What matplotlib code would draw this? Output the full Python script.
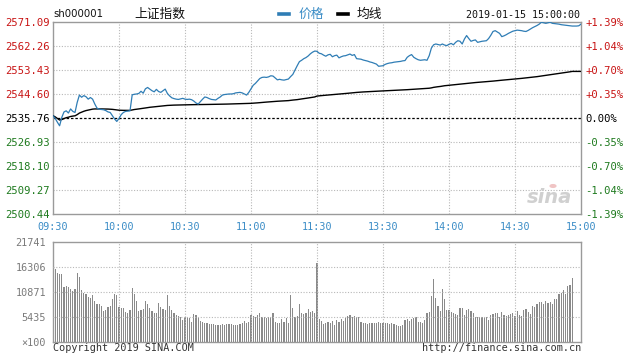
import matplotlib
matplotlib.use("Agg")
import matplotlib.pyplot as plt
import numpy as np
from matplotlib.patches import Circle

# ---------------- data ----------------
code = "sh000001"
name = "上证指数"
stamp = "2019-01-15 15:00:00"
prev_close = 2535.76

price = [
    2536.6, 2535.6, 2534.2, 2532.9, 2536.0, 2538.0, 2538.4, 2537.6, 2539.1, 2538.2,
    2537.8, 2541.5, 2544.2, 2543.4, 2544.0, 2543.6, 2542.7, 2543.3, 2542.7, 2540.9,
    2539.4, 2539.0, 2538.9, 2538.8, 2538.5, 2538.0, 2537.8, 2536.6, 2535.4, 2534.5,
    2535.6, 2537.0, 2537.8, 2538.2, 2538.3, 2538.4, 2544.3, 2544.5, 2544.6, 2544.8,
    2545.6, 2544.9, 2546.5, 2547.0, 2546.4, 2545.8, 2545.4, 2546.3, 2545.5, 2545.2,
    2545.8, 2546.4, 2544.8, 2543.9, 2543.2, 2542.9, 2542.7, 2542.6, 2542.8, 2543.0,
    2542.7, 2542.6, 2542.7, 2542.5, 2542.0, 2541.3, 2540.9, 2541.8, 2542.7, 2543.5,
    2543.3, 2542.9, 2542.6, 2542.5, 2542.4, 2543.0, 2543.5, 2544.2, 2544.4, 2544.5,
    2544.6, 2544.6, 2544.7, 2545.0, 2545.1, 2545.2, 2545.0, 2544.6, 2544.2, 2545.2,
    2546.5, 2547.8, 2548.5, 2549.4, 2550.3, 2550.7, 2550.8, 2550.7, 2550.9, 2551.3,
    2551.2, 2550.5, 2549.8, 2550.0, 2549.8, 2549.7, 2549.9, 2550.1, 2551.0, 2551.8,
    2553.4, 2555.0, 2556.5, 2557.0, 2557.6, 2558.0, 2558.6, 2559.4, 2560.0, 2560.4,
    2560.3, 2559.6, 2559.4, 2558.9, 2558.5, 2559.0, 2559.2, 2558.3, 2558.7, 2558.9,
    2557.9, 2558.3, 2558.6, 2558.7, 2559.0, 2559.3, 2558.8, 2559.1, 2557.6, 2557.5,
    2557.4, 2557.1, 2556.9, 2556.7, 2556.4, 2556.2, 2555.9, 2555.6, 2554.8, 2554.9,
    2555.0, 2555.5, 2555.8, 2556.0, 2556.1, 2556.3, 2556.4, 2556.5, 2556.6, 2556.8,
    2556.9, 2558.1, 2558.7, 2559.1, 2558.1, 2557.6, 2557.2, 2557.0, 2557.1, 2557.2,
    2557.0, 2558.7, 2561.5, 2562.7, 2563.0, 2562.8, 2562.6, 2563.0, 2562.6, 2562.4,
    2562.9, 2563.2, 2562.7, 2563.6, 2564.2, 2564.0, 2563.0, 2564.8, 2566.1, 2565.0,
    2564.0, 2564.3, 2564.5, 2563.6, 2563.8, 2564.0, 2564.1, 2564.2, 2565.0, 2566.2,
    2567.6, 2567.9, 2567.4, 2566.9, 2565.7, 2566.0, 2566.4, 2566.9, 2567.3, 2567.7,
    2567.9, 2568.1, 2568.0, 2567.9, 2567.7, 2567.6, 2568.0, 2568.5, 2569.0, 2569.4,
    2569.8, 2570.3, 2571.0, 2570.8, 2570.6, 2570.8, 2571.0, 2570.6, 2570.5, 2570.4,
    2570.3, 2570.1, 2570.0, 2569.9, 2569.8, 2569.7, 2569.6, 2569.6, 2569.6, 2569.7,
    2570.3,
]

volume = [
    21741, 15800, 15070, 14710, 14710, 11880, 12170, 12030, 11450, 11160,
    11450, 15070, 14200, 11300, 10580, 10440, 9860, 9490, 10220, 8990,
    8260, 8260, 7830, 6810, 6960, 7680, 7830, 9350, 10440, 10150,
    7680, 7320, 7320, 6590, 6230, 6960, 11670, 10440, 8990, 6810,
    6960, 7100, 8910, 8260, 7320, 6810, 6380, 6230, 8550, 7540,
    7100, 6960, 10220, 7830, 6960, 6380, 5870, 5650, 5360, 4780,
    5360, 5510, 5150, 4420, 6090, 5870, 5150, 4640, 4420, 4060,
    4060, 3990, 3910, 3840, 3770, 3700, 3770, 3840, 3770, 3910,
    3990, 3840, 3770, 3700, 3700, 3840, 4200, 4640, 4200, 4420,
    5870, 5650, 5510, 5870, 6230, 5360, 5360, 5150, 5360, 5360,
    6230, 4420, 4060, 4060, 4930, 4420, 5150, 4200, 10220, 7320,
    5360, 5650, 8260, 6230, 6090, 6380, 7170, 6590, 6810, 6230,
    17250, 4930, 4640, 3840, 4200, 4420, 4060, 4640, 3700, 4780,
    4420, 4930, 4640, 5150, 5650, 5870, 5360, 5650, 5510, 5360,
    4420, 4200, 4060, 3910, 4060, 4200, 4060, 4200, 4350, 4060,
    4200, 4060, 4200, 3910, 4060, 3840, 3700, 3480, 3480, 3790,
    4890, 5030, 4670, 5030, 5250, 5540, 4380, 4380, 4160, 4890,
    6350, 6570, 9990, 13640, 9480, 7810, 6710, 11450, 9260, 6860,
    6860, 6570, 6350, 5980, 5840, 7440, 7440, 5840, 6860, 7220,
    6710, 6200, 5400, 5540, 5400, 5400, 5400, 5400, 4890, 5840,
    6130, 6350, 6350, 5400, 6570, 5840, 5620, 5840, 5980, 6350,
    5620, 6710, 5840, 5620, 6860, 7080, 6570, 5980, 7810, 7660,
    8170, 8750, 8750, 8170, 8900, 8540, 8750, 8320, 9260, 9410,
    10360, 10720, 11230, 10500, 12180, 12500, 13850, 0, 0, 0,
    0,
]

price_ticks = [2500.44, 2509.27, 2518.10, 2526.93, 2535.76, 2544.60, 2553.43, 2562.26, 2571.09]
price_tick_labels = ["2500.44", "2509.27", "2518.10", "2526.93", "2535.76",
                     "2544.60", "2553.43", "2562.26", "2571.09"]
pct_labels = ["-1.39%", "-1.04%", "-0.70%", "-0.35%", "0.00%",
              "+0.35%", "+0.70%", "+1.04%", "+1.39%"]
time_ticks = [0, 30, 60, 90, 120, 150, 180, 210, 240]
time_labels = ["09:30", "10:00", "10:30", "11:00", "11:30", "13:30", "14:00", "14:30", "15:00"]
vol_ticks = [0, 5435, 10871, 16306, 21741]
vol_tick_labels = ["×100", "5435", "10871", "16306", "21741"]

# ---------------- styling ----------------
W, H = 633, 359
BLUE = "#2f7db5"
RED = "#c81414"
GREEN = "#1e7a1e"
FRAME = "#9a9a9a"
GRID = "#b8b8b8"
MONO = "DejaVu Sans Mono"
CJK = ["Noto Sans CJK SC", "DejaVu Sans"]

def fx(px):
    return px / W

def fy(py):
    return 1 - py / H

fig = plt.figure(figsize=(W / 100, H / 100), dpi=100)
fig.patch.set_facecolor("white")

L, R = 53, 581
ax = fig.add_axes([fx(L), fy(214), fx(R - L), (214 - 22) / H])
axv = fig.add_axes([fx(L), fy(342), fx(R - L), (342 - 242) / H])

x = np.arange(len(price))
p = np.array(price, dtype=float)
v = np.array(volume, dtype=float)
avg = np.cumsum(p * v) / np.cumsum(v)

# ---- price panel ----
ax.set_xlim(0, 240)
ax.set_ylim(price_ticks[0], price_ticks[-1])
for t in time_ticks[1:-1]:
    ax.axvline(t, color=GRID, lw=0.8, ls=(0, (1, 1.5)), zorder=1)
for t in price_ticks[1:-1]:
    if abs(t - prev_close) < 1e-6:
        continue
    ax.axhline(t, color=GRID, lw=0.8, ls=(0, (1, 1.5)), zorder=1)
ax.axhline(prev_close, color="black", lw=0.9, ls=(0, (2, 1.5)), zorder=2)
ax.plot(x, avg, color="black", lw=1.0, zorder=3)
ax.plot(x, p, color=BLUE, lw=0.9, zorder=4)

for s in ax.spines.values():
    s.set_color(FRAME)
    s.set_linewidth(1.0)

ax.set_yticks(price_ticks)
ax.set_yticklabels(price_tick_labels, fontfamily=MONO, fontsize=7.6)
for lab, t in zip(ax.get_yticklabels(), price_ticks):
    if t > prev_close + 1e-6:
        lab.set_color(RED)
    elif t < prev_close - 1e-6:
        lab.set_color(GREEN)
    else:
        lab.set_color("black")
ax.tick_params(axis="y", length=0, pad=2)

ax.set_xticks(time_ticks)
ax.set_xticklabels(time_labels, fontfamily=MONO, fontsize=7.3, color="#3a8cc6")
ax.tick_params(axis="x", length=0, pad=6)

ax2 = ax.twinx()
ax2.set_ylim(ax.get_ylim())
ax2.set_yticks(price_ticks)
ax2.set_yticklabels(pct_labels, fontfamily=MONO, fontsize=7.6)
for lab, t in zip(ax2.get_yticklabels(), price_ticks):
    if t > prev_close + 1e-6:
        lab.set_color(RED)
    elif t < prev_close - 1e-6:
        lab.set_color(GREEN)
    else:
        lab.set_color("black")
ax2.tick_params(axis="y", length=0, pad=3)
for s in ax2.spines.values():
    s.set_visible(False)

# sina watermark
ax.text(0.94, 0.085, "sina", transform=ax.transAxes, ha="center", va="center",
        fontsize=14, fontstyle="italic", fontweight="bold", color="#d0d0d0", zorder=0)
fig.patches.append(Circle((fx(553), fy(186)), 3.6 / W, transform=fig.transFigure,
                          facecolor="#f0c4c4", edgecolor="none"))

# ---- volume panel ----
axv.set_xlim(0, 240)
axv.set_ylim(vol_ticks[0], vol_ticks[-1])
axv.bar(x, v, width=0.5, color="#8a8a8a", linewidth=0, zorder=2)
for t in time_ticks[1:-1]:
    axv.axvline(t, color=GRID, lw=0.8, ls=(0, (1, 1.5)), zorder=3)
for t in vol_ticks[1:-1]:
    axv.axhline(t, color=GRID, lw=0.8, ls=(0, (1, 1.5)), zorder=3)
for s in axv.spines.values():
    s.set_color(FRAME)
    s.set_linewidth(1.0)
axv.set_xticks([])
axv.set_yticks(vol_ticks)
axv.set_yticklabels(vol_tick_labels, fontfamily=MONO, fontsize=7.3, color="#7a7a7a")
axv.tick_params(axis="y", length=0, pad=5)

# ---- header ----
fig.text(fx(53), fy(14), code, fontsize=7.3, family="DejaVu Sans", color="#111111",
         ha="left", va="center")
fig.text(fx(134), fy(14), name, fontsize=9.2, family=CJK, color="#111111",
         ha="left", va="center")
fig.add_artist(plt.Line2D([fx(279), fx(289)], [fy(14), fy(14)], color=BLUE, lw=2.6,
                          transform=fig.transFigure))
fig.text(fx(299), fy(14), "价格", fontsize=9.2, family=CJK, color="#3a8cc6",
         ha="left", va="center")
fig.add_artist(plt.Line2D([fx(338), fx(348)], [fy(14), fy(14)], color="black", lw=2.6,
                          transform=fig.transFigure))
fig.text(fx(357), fy(14), "均线", fontsize=9.2, family=CJK, color="#111111",
         ha="left", va="center")
fig.text(fx(580), fy(15), stamp, fontsize=7.2, family=MONO, color="#111111",
         ha="right", va="center")

# ---- footer ----
fig.text(fx(53), fy(348), "Copyright 2019 SINA.COM", fontsize=7.3, family=MONO,
         color="#333333", ha="left", va="center")
fig.text(fx(581), fy(348), "http://finance.sina.com.cn", fontsize=7.3, family=MONO,
         color="#333333", ha="right", va="center")

fig.savefig("out.png", dpi=100, facecolor="white")
